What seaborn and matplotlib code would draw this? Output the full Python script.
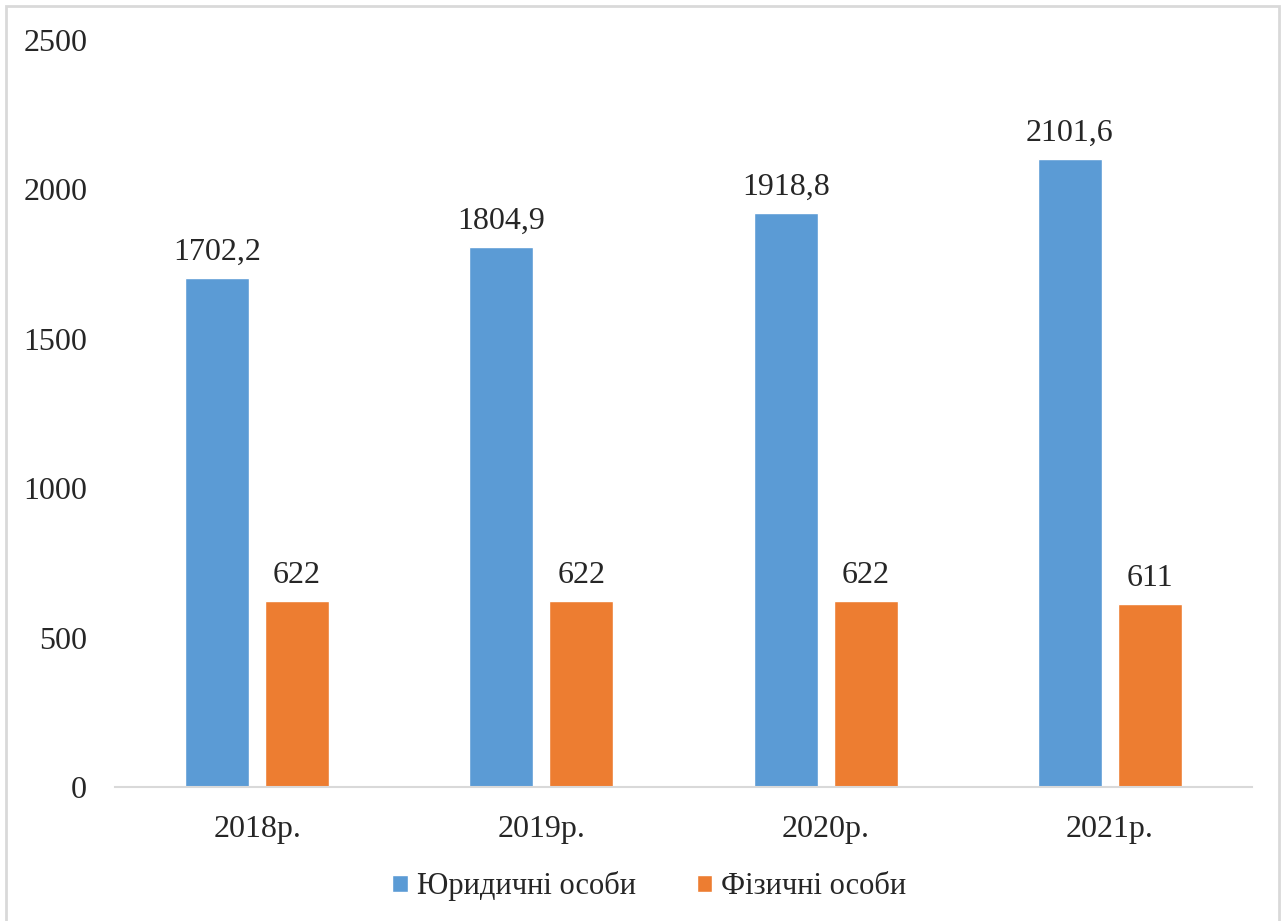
import pandas as pd
import seaborn as sns
import matplotlib.pyplot as plt
from matplotlib.patches import Rectangle

# дані
years = ['2018р.', '2019р.', '2020р.', '2021р.']
legal = [1702.2, 1804.9, 1918.8, 2101.6]
individual = [622, 622, 622, 611]
series_names = ['Юридичні особи', 'Фізичні особи']
colors = ['#5B9BD5', '#ED7D31']

df = pd.DataFrame({
    'year': years * 2,
    'value': legal + individual,
    'group': [series_names[0]] * 4 + [series_names[1]] * 4,
})

sns.set_style('white')
plt.rcParams['font.family'] = ['Liberation Serif', 'DejaVu Serif']

fig = plt.figure(figsize=(12.86, 9.21), dpi=100)
ax = fig.add_axes([0.0894, 0.1455, 0.8842, 0.8115])

sns.barplot(data=df, x='year', y='value', hue='group', palette=colors,
            width=0.563, gap=0.2, saturation=1, ax=ax)

def fmt(v):
    s = f'{v:.1f}'.replace('.', ',')
    return s[:-2] if s.endswith(',0') else s

for cont, vals in zip(ax.containers, [legal, individual]):
    ax.bar_label(cont, labels=[fmt(v) for v in vals], padding=8, fontsize=23)

ax.set_ylim(0, 2500)
ax.set_yticks([0, 500, 1000, 1500, 2000, 2500])
ax.set_xlim(-0.5, 3.5)
ax.set_xlabel('')
ax.set_ylabel('')
ax.tick_params(axis='y', length=0, pad=20, labelsize=23)
ax.tick_params(axis='x', length=0, pad=20, labelsize=23)
for s in ['left', 'top', 'right']:
    ax.spines[s].set_visible(False)
ax.spines['bottom'].set_color('#D9D9D9')
ax.spines['bottom'].set_linewidth(1.5)

handles, labels = ax.get_legend_handles_labels()
ax.legend(handles, labels, loc='center', bbox_to_anchor=(0.47, -0.133),
          ncol=2, frameon=False, fontsize=22, handlelength=0.5, handleheight=0.5,
          handletextpad=0.3, columnspacing=2.0)

# рамка навколо рисунка
fig.patches.append(Rectangle((6 / 1286, -0.05), 1273 / 1286, 1 - 6 / 921 + 0.05,
                             transform=fig.transFigure, fill=False,
                             edgecolor='#D9D9D9', linewidth=2, zorder=-1))

fig.savefig('out.png', dpi=100)
